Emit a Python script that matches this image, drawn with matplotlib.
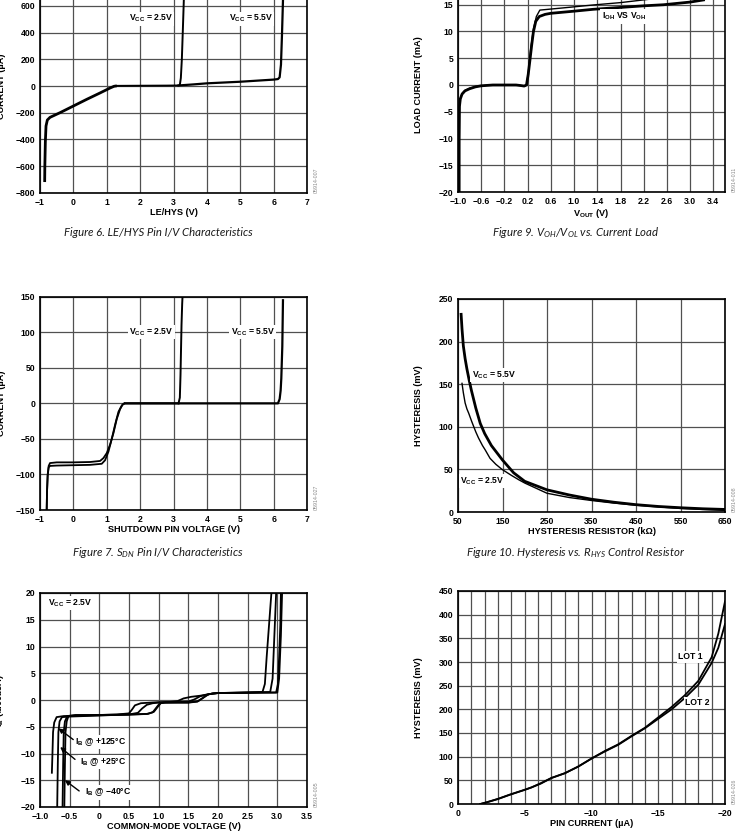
import matplotlib
matplotlib.use("Agg")
import matplotlib.pyplot as plt
import numpy as np

# ---- data ----
# Fig 6: LE/HYS pin I/V
le_neg_x = [-0.86, -0.855, -0.84, -0.82, -0.78, -0.7, -0.4, 0.0, 0.4, 0.8, 1.1, 1.22, 1.3]
le_neg_y = [-720, -600, -420, -300, -255, -235, -200, -150, -100, -52, -15, -2, 1]
le_25_x = [1.3, 2.0, 2.8, 3.15, 3.19, 3.22, 3.25, 3.28, 3.31, 3.34]
le_25_y = [1, 2, 3, 4, 8, 60, 200, 420, 650, 850]
le_55_x = [3.15, 3.6, 4.0, 5.0, 6.0, 6.13, 6.18, 6.22, 6.25, 6.28, 6.31]
le_55_y = [4, 12, 20, 32, 48, 52, 65, 160, 380, 640, 850]

# Fig 9: VOH/VOL vs load current
vo_thick_x = [-0.98, -0.98, -0.975, -0.96, -0.93, -0.88, -0.8, -0.7, -0.6, -0.4, -0.2, 0.0,
              0.08, 0.14, 0.18, 0.21, 0.24, 0.27, 0.30, 0.34, 0.40, 0.50, 0.60, 1.0, 1.33,
              1.8, 2.2, 2.54, 3.0, 3.23]
vo_thick_y = [-20, -10, -4, -2.6, -1.7, -1.1, -0.7, -0.35, -0.15, 0, 0, 0,
              -0.1, -0.2, 0, 2.0, 4.7, 7.5, 10.0, 11.9, 12.8, 13.2, 13.4, 13.8, 14.15,
              14.5, 14.8, 15.0, 15.5, 15.9]
vo_thin_x = [-0.98, -0.975, -0.96, -0.93, -0.88, -0.8, -0.7, -0.5, 0.0, 0.1, 0.15, 0.18,
             0.21, 0.25, 0.30, 0.35, 0.41, 0.8, 1.33, 1.8, 2.19, 2.6]
vo_thin_y = [-20, -4, -2.5, -1.6, -1.0, -0.6, -0.3, -0.05, 0, -0.15, -0.2, 0,
             2.2, 6.5, 10.5, 12.8, 14.0, 14.4, 14.96, 15.4, 15.9, 16.4]

# Fig 7: SDN pin I/V
sd_a_x = [-0.80, -0.79, -0.77, -0.74, -0.70, -0.5, 0.0, 0.5, 0.8, 0.9, 1.0, 1.1, 1.2,
          1.3, 1.4, 1.48, 1.55, 2.5, 3.15]
sd_a_y = [-150, -125, -100, -88, -84, -83, -83, -82.5, -81, -77, -70, -58, -42,
          -22, -8, -1.5, 0, 0, 0]
sd_b_x = [-0.80, -0.79, -0.77, -0.74, -0.70, -0.5, 0.0, 0.5, 0.85, 0.95, 1.05, 1.15, 1.25,
          1.35, 1.45, 1.52]
sd_b_y = [-150, -125, -102, -90, -88, -87.5, -87, -86.5, -85, -80, -68, -50, -30,
          -12, -3, 0]
sd_25_x = [3.15, 3.19, 3.21, 3.24, 3.26, 3.27]
sd_25_y = [0, 8, 40, 110, 140, 150]
sd_55_x = [1.55, 3.2, 5.0, 6.13, 6.18, 6.21, 6.23, 6.26, 6.28]
sd_55_y = [0, 0, 0, 0, 6, 18, 35, 80, 145]

# Fig 10: hysteresis vs RHYS
rh_55_x = [57, 59, 62, 66, 70, 75, 80, 90, 100, 110, 125, 150, 175, 200, 250, 300,
           350, 400, 450, 500, 550, 600, 650]
rh_55_y = [232, 215, 195, 180, 168, 155, 143, 122, 104, 92, 78, 61, 46, 36, 26, 20,
           15, 11.5, 8.6, 6.5, 5.0, 3.8, 3.0]
rh_25_x = [59, 62, 66, 70, 74, 81, 90, 96, 105, 111, 122, 135, 149, 170, 186, 200,
           250, 300, 350, 400, 450, 500, 550, 600, 650]
rh_25_y = [151, 140, 128, 121, 116, 106, 94, 87, 78, 73, 63, 56, 50, 43, 38, 34,
           22, 17, 13.5, 10.5, 8.0, 6.0, 4.2, 3.0, 2.0]

# Fig 8: IB vs common-mode voltage
ib_125_x = [-0.80, -0.79, -0.78, -0.76, -0.72, -0.6, -0.3, 0.0, 0.3, 0.5, 0.55, 0.6, 0.7,
            0.85, 1.0, 1.2, 1.32, 1.42, 1.55, 1.7, 1.85, 2.0, 2.4, 2.75, 2.79, 2.82,
            2.86, 2.90]
ib_125_y = [-13.6, -10, -6, -4.2, -3.2, -3.0, -2.9, -2.8, -2.7, -2.5, -1.8, -1.0, -0.6,
            -0.5, -0.4, -0.35, -0.2, 0.3, 0.6, 0.8, 1.1, 1.3, 1.4, 1.5, 3, 8, 14, 20]
ib_25_x = [-0.71, -0.70, -0.69, -0.67, -0.63, -0.5, 0.0, 0.5, 0.65, 0.72, 0.8, 0.9, 1.0,
           1.3, 1.5, 1.6, 1.7, 1.85, 2.0, 2.5, 2.88, 2.92, 2.95, 2.98]
ib_25_y = [-20, -12, -6, -4, -3.2, -3.1, -2.9, -2.7, -2.4, -1.6, -0.9, -0.6, -0.5,
           -0.4, -0.3, 0.1, 0.7, 1.1, 1.3, 1.4, 1.5, 4, 12, 20]
ib_m40_x = [-0.62, -0.61, -0.60, -0.58, -0.54, -0.4, 0.0, 0.5, 0.8, 0.9, 0.97, 1.02, 1.1,
            1.5, 1.65, 1.75, 1.82, 1.9, 2.0, 2.5, 2.98, 3.01, 3.03, 3.05, 3.06]
ib_m40_y = [-20, -12, -6, -4, -3.0, -2.8, -2.8, -2.7, -2.6, -2.3, -1.3, -0.6, -0.5,
            -0.5, -0.3, 0.4, 1.0, 1.2, 1.3, 1.35, 1.4, 3, 8, 14, 20]
ib_m40b_x = [-0.59, -0.58, -0.57, -0.55, -0.52, -0.4, 0.0, 0.5, 0.82, 0.92, 0.99, 1.04,
             1.12, 1.5, 1.66, 1.76, 1.84, 1.92, 2.0, 2.5, 3.0, 3.03, 3.06, 3.08]
ib_m40b_y = [-20, -12, -6, -4, -3.0, -2.9, -2.85, -2.75, -2.6, -2.2, -1.2, -0.55,
             -0.45, -0.45, -0.25, 0.5, 1.05, 1.25, 1.3, 1.35, 1.4, 4, 12, 20]

# Fig 11: hysteresis vs pin current
pc_lot2_x = [-1.67, -2.2, -3.0, -3.9, -5.0, -5.5, -6.2, -7.0, -8.0, -9.0, -10.0, -11.0,
             -12.0, -13.0, -14.0, -15.0, -16.0, -17.0, -18.0, -19.0, -19.5, -20.0]
pc_lot2_y = [0, 4, 10.5, 19.7, 30, 35, 43, 55, 65, 79, 96, 111,
             125, 143, 160, 180, 200, 224, 252, 298, 330, 380]
pc_lot1_x = [-1.67, -2.2, -3.0, -3.9, -5.0, -5.5, -6.2, -7.0, -8.0, -9.0, -10.0, -11.0,
             -12.0, -13.0, -14.0, -15.0, -16.0, -17.0, -18.0, -19.0, -19.5, -20.0]
pc_lot1_y = [0, 4, 11, 20, 30, 35, 44, 55, 65, 79, 96, 112,
             126, 144, 161, 183, 205, 230, 260, 310, 360, 428]

# tick labels
t_x_le = ["\u22121", "0", "1", "2", "3", "4", "5", "6", "7"]
t_y_le = ["\u2212800", "\u2212600", "\u2212400", "\u2212200", "0", "200", "400", "600", "800"]
t_x_vo = ["\u22121.0", "\u22120.6", "\u22120.2", "0.2", "0.6", "1.0", "1.4", "1.8", "2.2",
          "2.6", "3.0", "3.4"]
t_y_vo = ["\u221220", "\u221215", "\u221210", "\u22125", "0", "5", "10", "15", "20"]
t_y_sd = ["\u2212150", "\u2212100", "\u221250", "0", "50", "100", "150"]
t_x_rh = ["50", "150", "250", "350", "450", "550", "650"]
t_y_rh = ["0", "50", "100", "150", "200", "250"]
t_x_ib = ["\u22121.0", "\u22120.5", "0", "0.5", "1.0", "1.5", "2.0", "2.5", "3.0", "3.5"]
t_y_ib = ["\u221220", "\u221215", "\u221210", "\u22125", "0", "5", "10", "15", "20"]
t_x_pc = ["0", "\u22125", "\u221210", "\u221215", "\u221220"]
t_y_pc = ["0", "50", "100", "150", "200", "250", "300", "350", "400", "450"]

W, H = 744, 834
plt.rcParams['font.family'] = ['Liberation Sans', 'DejaVu Sans']
plt.rcParams['font.weight'] = 'bold'
fig = plt.figure(figsize=(W / 100, H / 100), dpi=100)

TICK = 6.2
LAB = 6.6
GRID = '#505050'


def place(l, t, r, b):
    return fig.add_axes([l / W, 1 - b / H, (r - l) / W, (b - t) / H])


def style(ax, xt, xl, yt, yl, xlim, ylim, xlabel, ylabel, tag, xgrid=None, ygrid=None):
    ax.set_xlim(*xlim)
    ax.set_ylim(*ylim)
    ax.set_xticks(xt)
    ax.set_xticklabels(xl)
    ax.set_yticks(yt)
    ax.set_yticklabels(yl)
    if xgrid is not None:
        ax.set_xticks(xgrid, minor=True)
    if ygrid is not None:
        ax.set_yticks(ygrid, minor=True)
    ax.tick_params(length=0, labelsize=TICK, pad=3.5, which='both')
    ax.grid(True, which='both', color=GRID, lw=0.9)
    ax.set_axisbelow(True)
    for s in ax.spines.values():
        s.set_linewidth(1.2)
        s.set_color('black')
    ax.set_xlabel(xlabel, fontsize=LAB, fontweight='bold', va='top')
    ax.set_ylabel(ylabel, fontsize=LAB, fontweight='bold')
    ax.xaxis.set_label_coords(0.5, -0.07)
    ax.text(1.035, 0.0, tag, transform=ax.transAxes, rotation=90, fontsize=3.8,
            color='#8a8a8a', fontweight='normal', ha='center', va='bottom')


box = dict(facecolor='white', edgecolor='none', pad=1.0)

# ---- Fig 6 ----
ax = place(40, -20.7, 307, 192.7)
style(ax, np.arange(-1, 8, 1), t_x_le, np.arange(-800, 801, 200), t_y_le,
      (-1, 7), (-800, 800), "LE/HYS (V)", "CURRENT (\u00b5A)", "05914-007")
ax.yaxis.set_label_coords(-0.127, 0.5)
ax.plot(le_neg_x, le_neg_y, color='k', lw=2.0, solid_capstyle='butt')
ax.plot(le_25_x, le_25_y, color='k', lw=1.4)
ax.plot(le_55_x, le_55_y, color='k', lw=1.6)
ax.text(2.32, 505, r"$\mathregular{V_{CC}}$ = 2.5V", fontsize=TICK, ha='center', va='center', bbox=box)
ax.text(5.32, 505, r"$\mathregular{V_{CC}}$ = 5.5V", fontsize=TICK, ha='center', va='center', bbox=box)

# ---- Fig 9 ----
ax = place(458, -22, 725, 192)
style(ax, np.arange(-1.0, 3.5, 0.4), t_x_vo, np.arange(-20, 21, 5), t_y_vo,
      (-1.0, 3.6), (-20, 20), r"$\mathregular{V_{OUT}}$ (V)", "LOAD CURRENT (mA)", "05914-011")
ax.yaxis.set_label_coords(-0.131, 0.5)
ax.plot(vo_thin_x, vo_thin_y, color='k', lw=1.0)
ax.plot(vo_thick_x, vo_thick_y, color='k', lw=2.0)
ax.text(1.86, 12.8, r"$\mathregular{I_{OH}}$ VS $\mathregular{V_{OH}}$", fontsize=TICK,
        ha='center', va='center', bbox=box)

# ---- Fig 7 ----
ax = place(40, 296.7, 307, 510)
style(ax, np.arange(-1, 8, 1), t_x_le, np.arange(-150, 151, 50), t_y_sd,
      (-1, 7), (-150, 150), "SHUTDOWN PIN VOLTAGE (V)", "CURRENT (\u00b5A)", "05914-027")
ax.yaxis.set_label_coords(-0.127, 0.5)
ax.plot(sd_a_x, sd_a_y, color='k', lw=1.3)
ax.plot(sd_b_x, sd_b_y, color='k', lw=1.3)
ax.plot(sd_25_x, sd_25_y, color='k', lw=1.4)
ax.plot(sd_55_x, sd_55_y, color='k', lw=1.6)
ax.text(2.34, 100, r"$\mathregular{V_{CC}}$ = 2.5V", fontsize=TICK, ha='center', va='center', bbox=box)
ax.text(5.38, 100, r"$\mathregular{V_{CC}}$ = 5.5V", fontsize=TICK, ha='center', va='center', bbox=box)

# ---- Fig 10 ----
ax = place(458, 299, 725, 512)
style(ax, np.arange(50, 651, 100), t_x_rh, np.arange(0, 251, 50), t_y_rh,
      (50, 650), (0, 250), "HYSTERESIS RESISTOR (k\u03a9)", "HYSTERESIS (mV)", "05914-008")
ax.yaxis.set_label_coords(-0.131, 0.5)
ax.plot(rh_25_x, rh_25_y, color='k', lw=1.0)
ax.plot(rh_55_x, rh_55_y, color='k', lw=2.0)
ax.text(81, 161, r"$\mathregular{V_{CC}}$ = 5.5V", fontsize=TICK, ha='left', va='center', bbox=box)
ax.text(55, 36, r"$\mathregular{V_{CC}}$ = 2.5V", fontsize=TICK, ha='left', va='center', bbox=box)

# ---- Fig 8 ----
ax = place(40, 593, 307, 807)
style(ax, np.arange(-1.0, 3.6, 0.5), t_x_ib, np.arange(-20, 21, 5), t_y_ib,
      (-1.0, 3.5), (-20, 20), "COMMON-MODE VOLTAGE (V)", r"$\mathregular{I_B}$ (\u00b5A)", "05914-005")
ax.yaxis.set_label_coords(-0.127, 0.5)
for xs, ys in [(ib_125_x, ib_125_y), (ib_25_x, ib_25_y), (ib_m40_x, ib_m40_y), (ib_m40b_x, ib_m40b_y)]:
    ax.plot(xs, ys, color='k', lw=1.3)
ax.text(-0.86, 18.1, r"$\mathregular{V_{CC}}$ = 2.5V", fontsize=TICK, ha='left', va='center', bbox=box)
arrow = dict(arrowstyle='-|>', color='k', lw=1.0, shrinkA=0, shrinkB=0, mutation_scale=7)
ib_notes = [("+125\u00b0C", -0.41, -7.85, (-0.69, -5.3), (-0.44, -7.4)),
            ("+25\u00b0C", -0.33, -11.6, (-0.66, -8.8), (-0.41, -11.1)),
            ("\u221240\u00b0C", -0.24, -17.3, (-0.58, -15.0), (-0.34, -17.0))]
for lbl, tx, ty, head, tail in ib_notes:
    ax.text(tx, ty, r"$\mathregular{I_B}$ @ " + lbl, fontsize=TICK, ha='left', va='center', bbox=box)
    ax.annotate('', xy=head, xytext=tail, arrowprops=arrow)

# ---- Fig 11 ----
ax = place(458, 591, 725, 804)
style(ax, np.arange(0, -21, -5), t_x_pc, np.arange(0, 451, 50), t_y_pc,
      (0, -20), (0, 450), "PIN CURRENT (\u00b5A)", "HYSTERESIS (mV)", "05914-026",
      xgrid=np.arange(0, -21, -1))
ax.yaxis.set_label_coords(-0.131, 0.5)
ax.plot(pc_lot1_x, pc_lot1_y, color='k', lw=1.3)
ax.plot(pc_lot2_x, pc_lot2_y, color='k', lw=1.3)
ax.text(-16.5, 311, "LOT 1", fontsize=TICK, ha='left', va='center', bbox=box)
ax.text(-17.0, 214, "LOT 2", fontsize=TICK, ha='left', va='center', bbox=box)

# ---- captions ----
cap = dict(fontsize=8.2, fontweight='normal', style='italic', ha='center', va='center',
           family=['Lato', 'DejaVu Sans'], color='#1a1a1a')
fig.text(158 / W, 1 - 233 / H, "Figure 6. LE/HYS Pin I/V Characteristics", **cap)
fig.text(576 / W, 1 - 233 / H, r"Figure 9. $\mathregular{V_{OH}/V_{OL}}$ vs. Current Load", **cap)
fig.text(158 / W, 1 - 552 / H, r"Figure 7. $\mathregular{S_{DN}}$ Pin I/V Characteristics", **cap)
fig.text(576 / W, 1 - 553 / H, r"Figure 10. Hysteresis vs. $\mathregular{R_{HYS}}$ Control Resistor", **cap)

fig.savefig("out.png", dpi=100)
